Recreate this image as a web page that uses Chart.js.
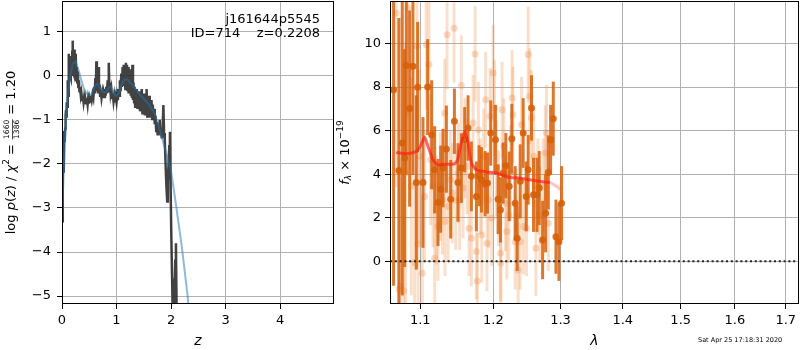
<!DOCTYPE html>
<html>
<head>
<meta charset="utf-8">
<script src="https://cdn.jsdelivr.net/npm/chart.js@4/dist/chart.umd.min.js"></script>
<style>
body { margin: 0; background: #fff; }
#wrap { position: relative; width: 800px; height: 350px; }
canvas { position: absolute; top: 0; }
</style>
</head>
<body>
<div id="wrap">
  <canvas id="pz" width="336" height="350" style="left:0"></canvas>
  <canvas id="spec" width="464" height="350" style="left:336px"></canvas>
</div>
<script>
// ---- p(z) panel ----
const zTicks = [0, 1, 2, 3, 4];
const logpTicks = [-5, -4, -3, -2, -1, 0, 1];

// noisy chi2 curve (dark)
const zChi = [
  0.000, 0.010, 0.018, 0.025, 0.032, 0.040, 0.050, 0.058, 0.066, 0.074,
  0.082, 0.090, 0.098, 0.105, 0.112, 0.120, 0.128, 0.135, 0.142, 0.150,
  0.158, 0.165, 0.172, 0.180, 0.188, 0.196, 0.203, 0.210, 0.218, 0.225,
  0.232, 0.240, 0.248, 0.255, 0.262, 0.270, 0.280, 0.290, 0.300, 0.310,
  0.320, 0.330, 0.345, 0.355, 0.370, 0.380, 0.395, 0.405, 0.420, 0.430,
  0.445, 0.455, 0.470, 0.480, 0.495, 0.505, 0.520, 0.530, 0.545, 0.560,
  0.575, 0.590, 0.600, 0.612, 0.620, 0.630, 0.640, 0.650, 0.658, 0.668,
  0.678, 0.690, 0.700, 0.712, 0.725, 0.738, 0.750, 0.762, 0.775, 0.788,
  0.800, 0.812, 0.825, 0.838, 0.848, 0.858, 0.868, 0.880, 0.892, 0.905,
  0.918, 0.930, 0.945, 0.958, 0.972, 0.985, 1.000, 1.012, 1.025, 1.038,
  1.050, 1.062, 1.075, 1.088, 1.100, 1.112, 1.122, 1.132, 1.142, 1.152,
  1.162, 1.172, 1.182, 1.192, 1.202, 1.212, 1.222, 1.232, 1.242, 1.252,
  1.262, 1.272, 1.282, 1.292, 1.302, 1.312, 1.322, 1.332, 1.342, 1.352,
  1.362, 1.372, 1.385, 1.395, 1.408, 1.418, 1.430, 1.440, 1.452, 1.462,
  1.475, 1.485, 1.498, 1.508, 1.520, 1.530, 1.542, 1.552, 1.565, 1.575,
  1.588, 1.598, 1.610, 1.620, 1.632, 1.642, 1.655, 1.665, 1.678, 1.690,
  1.702, 1.715, 1.728, 1.740, 1.755, 1.768, 1.780, 1.792, 1.805, 1.818,
  1.830, 1.845, 1.860, 1.872, 1.885, 1.900, 1.915, 1.930, 1.942, 1.955,
  1.968, 1.980, 1.992, 2.005, 2.020, 2.035, 2.050, 2.065, 2.078, 2.090,
  2.100, 2.110];
const logpChi = [
  -3.30, -2.60, -2.00, -1.60, -2.20, -1.25, -1.50, -1.20, -0.90, -0.77,
  -0.95, -0.60, -0.70, -0.10, -0.45, -0.20, 0.50, -0.05, 0.30, 0.00,
  0.45, -0.05, 0.35, 0.00, 0.55, 0.80, 0.10, 0.40, 0.05, 0.60,
  0.00, 0.35, -0.05, 0.50, -0.10, 0.20, -0.15, 0.10, -0.25, -0.10,
  -0.35, -0.25, -0.45, -0.38, -0.55, -0.45, -0.60, -0.50, -0.64, -0.52,
  -0.62, -0.50, -0.65, -0.52, -0.63, -0.50, -0.58, -0.45, -0.55, -0.42,
  -0.50, -0.25, -0.40, -0.05, -0.35, 0.33, -0.25, -0.10, -0.40, 0.20,
  -0.30, -0.20, -0.45, -0.35, -0.50, -0.38, -0.50, -0.38, -0.48, -0.30,
  -0.45, -0.25, -0.40, -0.10, -0.35, 0.30, -0.25, -0.15, -0.40, -0.30,
  -0.50, -0.40, -0.58, -0.45, -0.60, -0.48, -0.60, -0.45, -0.55, -0.30,
  -0.45, -0.10, -0.35, 0.05, -0.25, 0.20, -0.15, 0.25, -0.20, 0.20,
  -0.30, 0.30, -0.25, 0.25, -0.35, 0.20, -0.40, 0.10, -0.35, 0.15,
  -0.45, -0.05, -0.50, 0.25, -0.55, -0.15, -0.60, -0.25, -0.70, -0.35,
  -0.65, -0.30, -0.75, -0.40, -0.70, -0.35, -0.80, -0.45, -0.78, -0.30,
  -0.85, -0.45, -0.82, -0.40, -0.90, -0.50, -0.85, -0.30, -0.92, -0.55,
  -0.88, -0.45, -0.95, -0.60, -0.90, -0.55, -0.98, -0.65, -0.95, -0.75,
  -1.10, -0.90, -1.25, -1.05, -1.35, -1.10, -1.30, -1.00, -1.35, -1.20,
  -1.42, -1.25, -0.66, -1.30, -1.45, -2.00, -2.50, -2.85, -2.40, -2.00,
  -1.60, -1.27, -2.50, -3.60, -4.60, -5.40, -5.60, -5.00, -4.20, -3.80,
  -5.00, -6.50];

// smoothed p(z) (blue)
const zPz = [0.00, 0.03, 0.06, 0.10, 0.15, 0.20, 0.25, 0.30, 0.35, 0.40,
  0.45, 0.50, 0.55, 0.60, 0.65, 0.70, 0.75, 0.80, 0.85, 0.90,
  0.95, 1.00, 1.05, 1.10, 1.15, 1.20, 1.25, 1.30, 1.40, 1.50,
  1.60, 1.70, 1.80, 1.90, 2.00, 2.10, 2.20, 2.30, 2.35];
const logpPz = [-3.30, -2.20, -1.20, -0.50, 0.00, 0.28, 0.33, 0.15, -0.08, -0.28,
  -0.40, -0.44, -0.40, -0.25, -0.18, -0.28, -0.36, -0.38, -0.28, -0.24,
  -0.40, -0.46, -0.36, -0.18, -0.08, -0.08, -0.15, -0.22, -0.38, -0.52,
  -0.66, -0.86, -1.25, -1.70, -2.15, -3.00, -3.90, -4.95, -5.60];

// ---- spectrum panel ----
const lamTicks = [1.1, 1.2, 1.3, 1.4, 1.5, 1.6, 1.7];
const fluxTicks = [0, 2, 4, 6, 8, 10];

// fitted-trace points (dark)
const lamFit = [1.0655, 1.0723, 1.0766, 1.0796, 1.0818, 1.0861, 1.0904, 1.0948, 1.0965, 1.1035,
  1.1097, 1.1150, 1.1190, 1.1234, 1.1270, 1.1302, 1.1347, 1.1406, 1.1456, 1.1505,
  1.1551, 1.1597, 1.1644, 1.1690, 1.1760, 1.1798, 1.1831, 1.1882, 1.1916, 1.1963,
  1.2030, 1.2068, 1.2102, 1.2141, 1.2180, 1.2228, 1.2267, 1.2316, 1.2345, 1.2390,
  1.2434, 1.2479, 1.2508, 1.2558, 1.2588, 1.2639, 1.2674, 1.2725, 1.2770, 1.2811,
  1.2847, 1.2888, 1.2929, 1.2975, 1.3016];
const fluxFit = [7.88, 4.17, 5.43, 4.74, 8.99, 7.01, 8.96, 3.62, 7.99, 3.62,
  8.00, 5.81, 4.20, 2.70, 3.31, 4.28, 5.15, 2.85, 6.43, 3.62,
  4.28, 5.58, 6.12, 3.90, 2.98, 3.93, 3.74, 3.56, 3.59, 5.89,
  5.58, 2.85, 2.36, 4.05, 4.39, 3.44, 5.63, 2.67, 1.06, 3.67,
  5.89, 2.98, 4.20, 7.04, 3.05, 3.05, 3.36, 0.98, 2.21, 4.08,
  5.58, 6.55, 1.13, 0.90, 2.67];
const errFit = [9.0, 7.0, 7.0, 5.0, 5.0, 4.5, 5.0, 4.0, 3.0, 3.0,
  2.2, 2.5, 2.0, 2.0, 2.0, 1.8, 2.0, 1.8, 1.5, 1.8,
  1.6, 1.5, 1.5, 1.6, 1.6, 1.4, 1.5, 1.5, 1.4, 1.5,
  1.6, 1.6, 1.5, 1.4, 1.5, 1.6, 1.6, 1.7, 1.5, 1.7,
  1.6, 1.6, 1.6, 1.5, 1.7, 1.7, 1.7, 1.8, 1.8, 1.7,
  1.6, 1.7, 1.7, 1.8, 1.7];

// all pixels (light)
const lamAll = [1.0689, 1.0728, 1.0741, 1.0784, 1.0809, 1.0839, 1.0883, 1.0926, 1.0957, 1.0970,
  1.0991, 1.1026, 1.1057, 1.1079, 1.1114, 1.1136, 1.1168, 1.1190, 1.1212, 1.1234,
  1.1266, 1.1293, 1.1325, 1.1329, 1.1356, 1.1370, 1.1401, 1.1428, 1.1451, 1.1474,
  1.1510, 1.1528, 1.1551, 1.1574, 1.1602, 1.1630, 1.1658, 1.1690, 1.1714, 1.1742,
  1.1760, 1.1774, 1.1788, 1.1817, 1.1835, 1.1863, 1.1891, 1.1910, 1.1934, 1.1953,
  1.1977, 1.1997, 1.2016, 1.2044, 1.2073, 1.2102, 1.2107, 1.2126, 1.2151, 1.2175,
  1.2194, 1.2223, 1.2248, 1.2272, 1.2282, 1.2316, 1.2340, 1.2360, 1.2390, 1.2409,
  1.2439, 1.2484, 1.2508, 1.2533, 1.2558, 1.2593, 1.2623, 1.2654, 1.2684, 1.2735,
  1.2765, 1.2785, 1.2811];
const fluxAll = [11.4, -1.29, -1.13, -1.35, 4.05, 11.6, 3.44, -0.06, 9.88, 0.80,
  4.82, -0.55, 2.98, 9.95, 9.03, 4.66, 3.44, 0.14, 2.36, 1.60,
  3.44, 2.82, 6.80, 1.83, 10.4, 2.52, 3.74, 3.13, 10.7, 2.82,
  4.05, 2.82, 8.07, 3.36, 5.20, 4.36, 1.52, 1.06, 6.35, 9.52,
  0.45, -0.90, 6.04, 3.44, 1.21, 4.82, 7.42, 0.83, 2.82, 6.66,
  1.98, 8.65, 7.04, 4.28, 2.90, 0.37, -0.09, 6.96, 5.28, 2.67,
  1.37, 2.13, 4.05, 7.50, 6.73, 0.90, 2.06, -0.40, 0.90, 6.27,
  1.60, 1.52, 9.49, 7.58, 6.58, 4.82, 0.60, 3.44, 2.13, 3.44,
  4.97, 5.89, 1.75];
const errAll = [8.0, 6.0, 5.0, 5.0, 6.0, 5.0, 5.0, 4.0, 4.0, 4.0,
  4.0, 3.5, 3.0, 3.0, 3.0, 3.0, 2.8, 2.5, 2.5, 2.5,
  2.5, 2.5, 2.5, 2.5, 2.5, 2.5, 2.3, 2.3, 2.5, 2.3,
  2.3, 2.3, 2.3, 2.3, 2.3, 2.2, 2.2, 2.2, 2.2, 2.2,
  2.2, 2.2, 2.2, 2.2, 2.2, 2.2, 2.2, 2.2, 2.2, 2.2,
  2.2, 2.2, 2.2, 2.2, 2.2, 2.2, 2.2, 2.2, 2.2, 2.2,
  2.2, 2.2, 2.2, 2.2, 2.2, 2.2, 2.2, 2.2, 2.2, 2.2,
  2.2, 2.2, 2.2, 2.2, 2.2, 2.2, 2.2, 2.2, 2.2, 2.2,
  2.2, 2.2, 2.2];

// model (red)
const lamModel = [1.0689, 1.0818, 1.0948, 1.1000, 1.1057, 1.1100, 1.1168, 1.1230, 1.1320, 1.1460,
  1.1500, 1.1550, 1.1600, 1.1644, 1.1690, 1.1760, 1.1900, 1.2044, 1.2140, 1.2240,
  1.2385, 1.2533, 1.2684, 1.2836, 1.2940, 1.3010];
const fluxModel = [5.00, 4.94, 5.05, 5.28, 5.70, 5.28, 4.66, 4.43, 4.45, 4.48,
  4.66, 5.43, 5.97, 5.43, 4.51, 4.20, 4.10, 4.05, 3.94, 3.85,
  3.82, 3.74, 3.67, 3.62, 3.44, 3.28];

const zipXY = (xs, ys) => xs.map((x, i) => ({x: x, y: ys[i]}));
const minus = v => v < 0 ? '\u2212' + Math.abs(v) : String(v);

Chart.defaults.font.family = 'DejaVu Sans';
Chart.defaults.font.size = 13;
Chart.defaults.color = '#000';

const gridOpts = {color: '#b0b0b0', lineWidth: 1, tickColor: '#000', tickLength: 5, tickWidth: 1};

// no extra room for edge labels, the axes limits decide the plot box
const noPad = s => { s.paddingTop = 0; s.paddingBottom = 0; s.paddingLeft = 0; s.paddingRight = 0; };

// frame round the axes, like matplotlib spines
const frame = {
  id: 'frame',
  afterDraw(chart) {
    const a = chart.chartArea, ctx = chart.ctx;
    ctx.save();
    ctx.strokeStyle = '#000';
    ctx.lineWidth = 1;
    ctx.strokeRect(Math.round(a.left) + 0.5, Math.round(a.top) + 0.5,
      Math.round(a.right - a.left) - 1, Math.round(a.bottom - a.top) - 1);
    ctx.restore();
  }
};

// vertical error bars drawn from dataset.errors through the scales
const errorBars = {
  id: 'errorBars',
  beforeDatasetDraw(chart, args) {
    const ds = chart.data.datasets[args.index];
    if (!ds.errors) return;
    const {ctx, chartArea, scales} = chart;
    ctx.save();
    ctx.beginPath();
    ctx.rect(chartArea.left, chartArea.top, chartArea.width, chartArea.height);
    ctx.clip();
    ctx.strokeStyle = ds.errorColor;
    ctx.lineWidth = 3;
    ds.data.forEach((p, i) => {
      const x = scales.x.getPixelForValue(p.x);
      ctx.beginPath();
      ctx.moveTo(x, scales.y.getPixelForValue(p.y - ds.errors[i]));
      ctx.lineTo(x, scales.y.getPixelForValue(p.y + ds.errors[i]));
      ctx.stroke();
    });
    ctx.restore();
  }
};

// draw a rotated label made of runs (for mathtext-like axis titles)
function drawRuns(ctx, runs, cx, cy) {
  let total = 0;
  runs.forEach(r => {
    ctx.font = r.font;
    r.w = r.frac ? Math.max(ctx.measureText(r.frac[0]).width, ctx.measureText(r.frac[1]).width) + 2
                 : ctx.measureText(r.t).width;
    total += r.w;
  });
  ctx.save();
  ctx.translate(cx, cy);
  ctx.rotate(-Math.PI / 2);
  ctx.fillStyle = '#000';
  ctx.textBaseline = 'middle';
  let x = -total / 2;
  runs.forEach(r => {
    ctx.font = r.font;
    if (r.frac) {
      ctx.textAlign = 'center';
      ctx.fillText(r.frac[0], x + r.w / 2, -4.5);
      ctx.fillText(r.frac[1], x + r.w / 2, 5);
      ctx.fillRect(x + 0.5, 0, r.w - 1, 0.7);
      ctx.textAlign = 'left';
    } else {
      ctx.textAlign = 'left';
      ctx.fillText(r.t, x, r.dy || 0);
    }
    x += r.w;
  });
  ctx.restore();
}

const N = '13px DejaVu Sans', I = 'italic 13px DejaVu Sans';

const pzLabels = {
  id: 'pzLabels',
  afterDraw(chart) {
    const ctx = chart.ctx;
    drawRuns(ctx, [
      {t: 'log ', font: N}, {t: 'p', font: I}, {t: '(', font: N}, {t: 'z', font: I},
      {t: ') / ', font: N}, {t: '\u03c7', font: I}, {t: '2', font: '9px DejaVu Sans', dy: -5},
      {t: ' = ', font: N}, {frac: ['1660', '1386'], font: '7.5px DejaVu Sans'}, {t: ' = 1.20', font: N}
    ], 12, 152.5);
    ctx.save();
    ctx.font = N;
    ctx.textAlign = 'right';
    ctx.textBaseline = 'middle';
    ctx.fillText('j161644p5545', 320, 20);
    ctx.fillText('ID=714    z=0.2208', 320, 34);
    ctx.restore();
  }
};

const specLabels = {
  id: 'specLabels',
  afterDraw(chart) {
    const ctx = chart.ctx;
    drawRuns(ctx, [
      {t: 'f', font: I}, {t: '\u03bb', font: 'italic 9px DejaVu Sans', dy: 3},
      {t: ' \u00d7 10', font: N}, {t: '\u221219', font: '9px DejaVu Sans', dy: -5}
    ], 10, 152.5);
    ctx.save();
    ctx.font = '6.5px DejaVu Sans';
    ctx.textAlign = 'left';
    ctx.textBaseline = 'middle';
    ctx.fillText('Sat Apr 25 17:18:31 2020', 362, 340);
    ctx.restore();
  }
};

new Chart(document.getElementById('pz'), {
  type: 'line',
  data: {
    datasets: [
      {data: zipXY(zPz, logpPz), borderColor: 'rgba(31,119,180,0.5)', borderWidth: 2, pointRadius: 0, tension: 0},
      {data: zipXY(zChi, logpChi), borderColor: 'rgba(45,45,45,0.9)', borderWidth: 2.5, pointRadius: 0, tension: 0}
    ]
  },
  options: {
    responsive: false,
    animation: false,
    events: [],
    layout: {autoPadding: false, padding: {left: 0, right: 2, top: 1, bottom: 0}},
    plugins: {legend: {display: false}, tooltip: {enabled: false}},
    scales: {
      x: {
        type: 'linear', min: 0, max: 4.99,
        afterBuildTicks: s => { s.ticks = zTicks.map(v => ({value: v})); },
        afterFit: s => { s.height = 46; noPad(s); },
        grid: gridOpts, border: {display: false},
        ticks: {padding: 4, autoSkip: false, maxRotation: 0, callback: v => minus(v)},
        title: {display: true, text: 'z', font: {size: 14, style: 'italic'}, padding: 0}
      },
      y: {
        type: 'linear', min: -5.18, max: 1.70,
        afterBuildTicks: s => { s.ticks = logpTicks.map(v => ({value: v})); },
        afterFit: s => { s.width = 62; noPad(s); },
        grid: gridOpts, border: {display: false},
        ticks: {padding: 6, autoSkip: false, callback: v => minus(v)}
      }
    }
  },
  plugins: [frame, pzLabels]
});

new Chart(document.getElementById('spec'), {
  type: 'scatter',
  data: {
    datasets: [
      {data: [{x: 1.061, y: 0}, {x: 1.727, y: 0}], showLine: true, borderColor: '#222', borderWidth: 2,
       borderDash: [2, 2.8], pointRadius: 0},
      {data: zipXY(lamModel, fluxModel), showLine: true, borderColor: 'rgba(255,25,25,0.65)', borderWidth: 3,
       pointRadius: 0, tension: 0.2,
       segment: {borderColor: c => c.p0.parsed.x >= 1.283 ? 'rgba(255,60,60,0.3)' : undefined}},
      {data: zipXY(lamFit, fluxFit), errors: errFit, errorColor: 'rgba(214,96,10,0.85)',
       pointRadius: 3.5, pointBackgroundColor: 'rgba(214,96,10,0.9)', pointBorderWidth: 0},
      {data: zipXY(lamAll, fluxAll), errors: errAll, errorColor: 'rgba(238,140,70,0.28)',
       pointRadius: 3.5, pointBackgroundColor: 'rgba(238,140,70,0.32)', pointBorderWidth: 0}
    ]
  },
  options: {
    responsive: false,
    animation: false,
    events: [],
    layout: {autoPadding: false, padding: {left: 0, right: 1, top: 1, bottom: 0}},
    plugins: {legend: {display: false}, tooltip: {enabled: false}},
    scales: {
      x: {
        type: 'logarithmic', min: 1.061, max: 1.727,
        afterBuildTicks: s => { s.ticks = lamTicks.map(v => ({value: v})); },
        afterFit: s => { s.height = 46; noPad(s); },
        grid: gridOpts, border: {display: false},
        ticks: {padding: 4, autoSkip: false, maxRotation: 0, callback: v => Number(v).toFixed(1)},
        title: {display: true, text: '\u03bb', font: {size: 14, style: 'italic'}, padding: 0}
      },
      y: {
        type: 'linear', min: -1.96, max: 11.95,
        afterBuildTicks: s => { s.ticks = fluxTicks.map(v => ({value: v})); },
        afterFit: s => { s.width = 54; noPad(s); },
        grid: gridOpts, border: {display: false},
        ticks: {padding: 4, autoSkip: false, callback: v => minus(v)}
      }
    }
  },
  plugins: [frame, errorBars, specLabels]
});
</script>
</body>
</html>
